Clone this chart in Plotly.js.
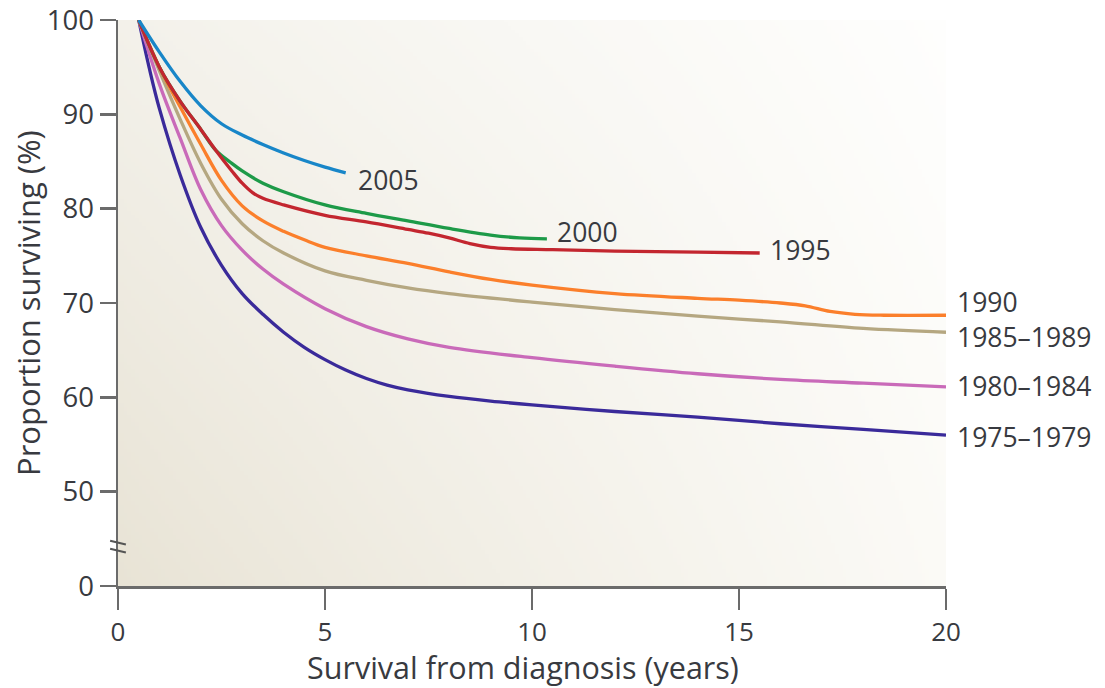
<!DOCTYPE html>
<html>
<head>
<meta charset="utf-8">
<script src="https://cdn.plot.ly/plotly-3.0.1.min.js"></script>
<style>
  html, body { margin: 0; padding: 0; background: #ffffff; }
  #chart { width: 1105px; height: 688px; }
</style>
</head>
<body>
<div id="chart"></div>
<script>
// ---- Data ----
const seriesNames = ['1975\u20131979', '1980\u20131984', '1985\u20131989', '1990', '2000', '1995', '2005'];

const x1975 = [0.5, 0.75, 1.0, 1.5, 2.0, 2.5, 3.0, 3.5, 4.0, 4.5, 5.0, 5.5, 6.0, 6.5, 7.0, 8.0, 9.0, 10, 12, 14, 16, 18, 20];
const y1975 = [100, 95, 90.6, 83.6, 78.0, 74.0, 71.0, 68.8, 66.9, 65.3, 64.0, 62.9, 62.0, 61.3, 60.8, 60.1, 59.6, 59.2, 58.5, 57.9, 57.2, 56.6, 56.0];

const x1980 = [0.5, 1.0, 1.5, 2.0, 2.5, 3.0, 3.5, 4.0, 5.0, 6.0, 7.0, 8.0, 10, 12, 14, 16, 18, 20];
const y1980 = [100, 93.2, 87.5, 82.0, 78.2, 75.6, 73.6, 72.0, 69.4, 67.5, 66.2, 65.3, 64.2, 63.3, 62.5, 61.9, 61.5, 61.1];

const x1985 = [0.5, 1.0, 1.5, 2.0, 2.5, 3.0, 3.5, 4.0, 5.0, 6.0, 7.0, 8.0, 10, 12, 14, 16, 18, 20];
const y1985 = [100, 94.6, 89.5, 84.8, 81.0, 78.4, 76.6, 75.3, 73.4, 72.4, 71.6, 71.0, 70.1, 69.3, 68.6, 68.0, 67.3, 66.9];

const x1990 = [0.5, 1.0, 1.5, 2.0, 2.5, 3.0, 3.5, 4.0, 4.5, 5.0, 6.0, 7.0, 8.0, 9.0, 10, 12, 14, 15, 16, 16.6, 17.2, 17.8, 18.5, 20];
const y1990 = [100, 95.0, 90.8, 86.8, 83.0, 80.3, 78.7, 77.6, 76.7, 75.9, 75.0, 74.2, 73.3, 72.5, 71.9, 71.0, 70.5, 70.3, 70.0, 69.7, 69.1, 68.8, 68.7, 68.7];

const x2000 = [0.5, 1.0, 1.5, 2.0, 2.36, 2.75, 3.0, 3.5, 4.0, 5.0, 6.0, 7.0, 8.0, 9.0, 9.7, 10.36];
const y2000 = [100, 95.0, 91.4, 88.4, 86.2, 84.8, 84.0, 82.7, 81.8, 80.4, 79.5, 78.7, 77.9, 77.2, 76.9, 76.8];

const x1995 = [0.5, 1.0, 1.5, 2.0, 2.36, 2.75, 3.0, 3.25, 3.5, 4.0, 5.0, 6.0, 7.0, 7.5, 8.0, 8.5, 9.0, 9.5, 10.5, 12, 14, 15.5];
const y1995 = [100, 95.0, 91.4, 88.4, 86.2, 84.0, 82.7, 81.7, 81.1, 80.4, 79.3, 78.6, 77.8, 77.4, 76.9, 76.3, 75.9, 75.75, 75.65, 75.5, 75.4, 75.3];

const x2005 = [0.5, 1.0, 1.5, 2.0, 2.5, 3.0, 3.5, 4.0, 4.5, 5.0, 5.5];
const y2005 = [100, 96.6, 93.5, 90.9, 89.0, 87.8, 86.8, 85.9, 85.1, 84.4, 83.8];

const xTickVals = [0, 5, 10, 15, 20];
const yTickVals = [40, 50, 60, 70, 80, 90, 100];
const yTickText = ['0', '50', '60', '70', '80', '90', '100'];

// ---- Styling ----
const xs = [x1975, x1980, x1985, x1990, x2000, x1995, x2005];
const ys = [y1975, y1980, y1985, y1990, y2000, y1995, y2005];
const colors = ['#3a2a9a', '#c96ab9', '#b5a781', '#fb7f2b', '#1d9a48', '#c3262f', '#1886c8'];
const X_RANGE = [0, 20], Y_RANGE = [40, 100];
// label anchor positions (data units) for the line-end labels
const labelPos = [
  [20.25, 55.8], [20.25, 61.2], [20.25, 66.35], [20.25, 70.1],
  [10.58, 77.5], [15.72, 75.6], [5.78, 83.0]
];
const toPaperX = v => (v - X_RANGE[0]) / (X_RANGE[1] - X_RANGE[0]);
const toPaperY = v => (v - Y_RANGE[0]) / (Y_RANGE[1] - Y_RANGE[0]);

const FONT = '"Open Sans", "Noto Sans", sans-serif';
const TXT = '#383a40';
const AX = '#6b6b6b';

const traces = xs.map((x, i) => ({
  type: 'scatter', mode: 'lines',
  x: x, y: ys[i], name: seriesNames[i],
  line: { color: colors[i], width: 3.3, shape: 'spline', smoothing: 1 },
  hoverinfo: 'x+y+name'
}));

const annotations = seriesNames.map((n, i) => ({
  x: toPaperX(labelPos[i][0]), y: toPaperY(labelPos[i][1]), xref: 'paper', yref: 'paper',
  text: n, showarrow: false, xanchor: 'left', yanchor: 'middle', borderpad: 0,
  font: { family: FONT, size: 26.5, color: TXT }
}));
annotations.push({
  xref: 'paper', yref: 'paper', x: 0.489, y: 0, yanchor: 'middle', xanchor: 'center',
  yshift: -80.5, text: 'Survival from diagnosis (years)', showarrow: false, borderpad: 0,
  font: { family: FONT, size: 30.5, color: TXT }
});
annotations.push({
  xref: 'paper', yref: 'paper', x: 0, y: 0.5, xshift: -90, xanchor: 'center', yanchor: 'middle',
  textangle: -90, text: 'Proportion surviving (%)', showarrow: false,
  font: { family: FONT, size: 31, color: TXT }
});

// background gradient image (beige bottom-left to white right)
function bgImage() {
  const w = 220, h = 150;
  const c = document.createElement('canvas');
  c.width = w; c.height = h;
  const ctx = c.getContext('2d');
  const img = ctx.createImageData(w, h);
  const TL = [243, 241, 234], BL = [232, 227, 213], TR = [254, 254, 253], BR = [251, 250, 246];
  for (let j = 0; j < h; j++) {
    const v = j / (h - 1);
    for (let i = 0; i < w; i++) {
      const u = Math.pow(i / (w - 1), 0.9);
      const k = (j * w + i) * 4;
      for (let ch = 0; ch < 3; ch++) {
        const top = TL[ch] + (TR[ch] - TL[ch]) * u;
        const bot = BL[ch] + (BR[ch] - BL[ch]) * u;
        img.data[k + ch] = Math.round(top + (bot - top) * v);
      }
      img.data[k + 3] = 255;
    }
  }
  ctx.putImageData(img, 0, 0);
  return c.toDataURL('image/png');
}

const layout = {
  width: 1105, height: 688,
  margin: { l: 118, r: 159, t: 20, b: 102 },
  paper_bgcolor: '#ffffff',
  plot_bgcolor: 'rgba(0,0,0,0)',
  showlegend: false,
  font: { family: FONT, color: TXT },
  images: [{
    source: bgImage(), xref: 'paper', yref: 'paper', x: 0, y: 1,
    sizex: 1, sizey: 1, sizing: 'stretch', xanchor: 'left', yanchor: 'top', layer: 'below'
  }],
  xaxis: {
    range: X_RANGE, tickvals: xTickVals, ticktext: xTickVals.map(String),
    showgrid: false, zeroline: false, showline: true, linecolor: AX, linewidth: 2.5,
    ticks: 'outside', ticklen: 21, tickwidth: 2.5, tickcolor: AX,
    tickfont: { family: FONT, size: 26, color: TXT }, fixedrange: true,
    ticklabeloverflow: 'allow'
  },
  yaxis: {
    range: Y_RANGE, tickvals: yTickVals, ticktext: yTickText,
    showgrid: false, zeroline: false, showline: true, linecolor: AX, linewidth: 2.5,
    ticks: 'outside', ticklen: 16, tickwidth: 2.5, tickcolor: AX,
    tickfont: { family: FONT, size: 27.5, color: TXT }, fixedrange: true,
    ticklabeloverflow: 'allow'
  },
  shapes: [
    { type: 'line', xref: 'paper', yref: 'y', x0: -0.0095, x1: 0.0095, y0: 44.8, y1: 44.4, line: { color: '#555', width: 2.2 } },
    { type: 'line', xref: 'paper', yref: 'y', x0: -0.0095, x1: 0.0095, y0: 43.95, y1: 43.55, line: { color: '#555', width: 2.2 } }
  ],
  annotations: annotations
};

Plotly.newPlot('chart', traces, layout, { displayModeBar: false, staticPlot: true });
</script>
</body>
</html>
